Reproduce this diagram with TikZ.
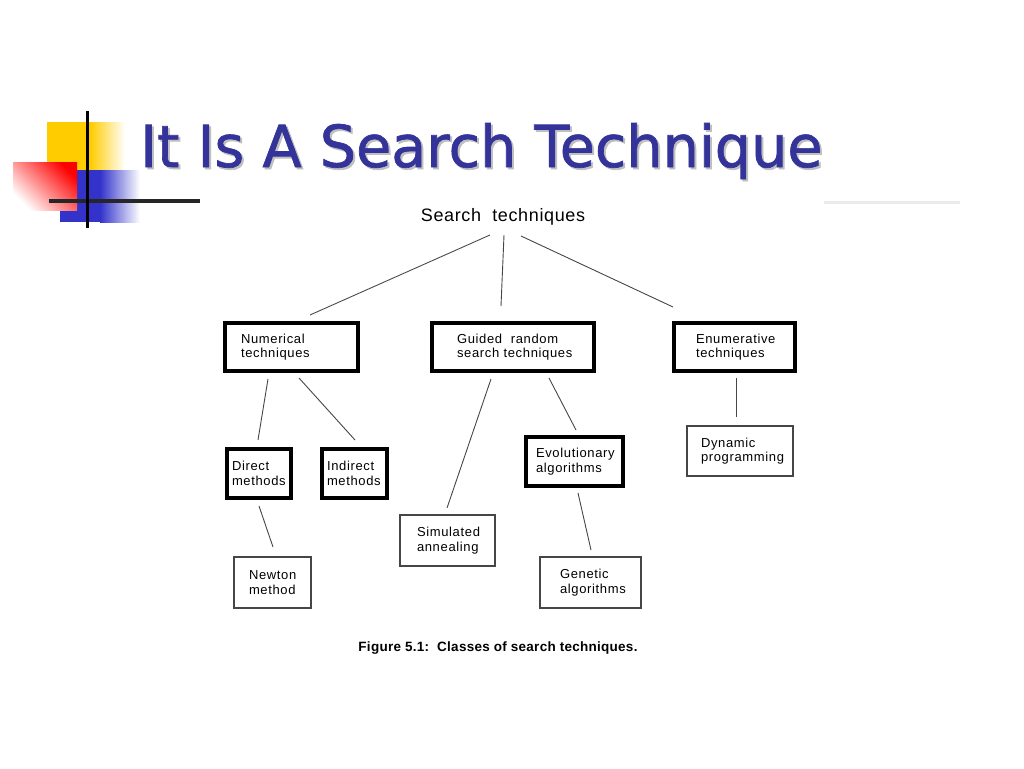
\documentclass[tikz,border=0pt]{standalone}
\usepackage{fontspec}
\setmainfont{Liberation Sans}
\newfontfamily\titlefont[FakeBold=1.2]{DejaVu Sans}
\newfontfamily\boxfont[LetterSpace=5]{Liberation Sans}
\newfontfamily\rootfont[LetterSpace=3.5]{Liberation Sans}
\newfontfamily\capfont[LetterSpace=2]{Liberation Sans}
\definecolor{titleblue}{RGB}{51,51,153}
\definecolor{logoyellow}{RGB}{255,204,0}
\definecolor{logoblue}{RGB}{51,51,204}
\definecolor{linegray}{RGB}{70,70,70}
\tikzset{
  bigbox/.style={draw=black, line width=3.6pt, align=left, inner ysep=0pt,
    font=\boxfont\fontsize{13}{14.5}\selectfont},
  smallbox/.style={draw=linegray, line width=1.1pt, align=left, inner ysep=0pt,
    font=\boxfont\fontsize{13}{14.5}\selectfont},
  link/.style={draw=linegray, line width=0.9pt}
}
\begin{document}
\begin{tikzpicture}[x=1pt, y=-1pt]
  \useasboundingbox (0,0) rectangle (1024,768);
  % logo
  \fill[logoyellow] (47,122) rectangle (90,185);
  \shade[left color=logoyellow, right color=white] (90,122) rectangle (125,185);
  \fill[logoblue] (60,170) rectangle (100,222);
  \shade[left color=logoblue, right color=white] (100,170) rectangle (140,222);
  \shade[top color=red, bottom color=white, shading angle=-45] (13,162) rectangle (77,210);
  \draw[black!85, line width=4pt] (49,201) -- (200,201);
  \draw[black, line width=3pt] (87,111) -- (87,228);
  % title
  \node[anchor=base west, inner sep=0pt, text=black!25] at (142,169)
    {\resizebox{682pt}{44pt}{\titlefont It Is A Search Technique}};
  \node[anchor=base west, inner sep=0pt, text=titleblue] (title) at (140,167)
    {\resizebox{682pt}{44pt}{\titlefont It Is A Search Technique}};
  \draw[black!8, line width=3pt] (824,202) -- (960,202);
  % tree
  \node[anchor=base, inner sep=0pt, font=\rootfont\fontsize{18}{20}\selectfont] (root) at (503,221)
    {Search\ \ techniques};
  \node[bigbox, text width=101pt, inner xsep=16pt, minimum height=48pt] (num) at (291.5,347)
    {Numerical\\techniques};
  \node[bigbox, text width=112pt, inner xsep=25pt, minimum height=48pt] (gui) at (513,347)
    {\mbox{Guided\ \ random}\\\mbox{search techniques}};
  \node[bigbox, text width=77pt, inner xsep=22pt, minimum height=48pt] (enu) at (734.5,347)
    {Enumerative\\techniques};
  \node[bigbox, text width=54pt, inner xsep=5pt, minimum height=49pt] (dir) at (259,473.5)
    {Direct\\methods};
  \node[bigbox, text width=55pt, inner xsep=5pt, minimum height=49pt] (ind) at (354.5,473.5)
    {Indirect\\methods};
  \node[bigbox, text width=77pt, inner xsep=10pt, minimum height=49pt] (evo) at (574.5,461.5)
    {Evolutionary\\algorithms};
  \node[smallbox, text width=47pt, inner xsep=15pt, minimum height=51pt] (new) at (272.5,582.5)
    {Newton\\method};
  \node[smallbox, text width=61pt, inner xsep=17pt, minimum height=51pt] (sim) at (447.5,540.5)
    {Simulated\\annealing};
  \node[smallbox, text width=61pt, inner xsep=20pt, minimum height=51pt] (gen) at (590.5,582.5)
    {Genetic\\algorithms};
  \node[smallbox, text width=78pt, inner xsep=14pt, minimum height=50pt] (dyn) at (740,451)
    {Dynamic\\programming};
  % connectors
  \draw[link] ([shift={(-13,14)}]root.base) -- ([shift={(18.5,-32)}]num.center);
  \draw[link] ([shift={(1,14)}]root.base) -- ([shift={(-12,-41)}]gui.center);
  \draw[link] ([shift={(18,15)}]root.base) -- ([shift={(-61.5,-40)}]enu.center);
  \draw[link] ([shift={(-23.5,32)}]num.center) -- ([shift={(-1,-33.5)}]dir.center);
  \draw[link] ([shift={(7.5,31)}]num.center) -- ([shift={(0.5,-33.5)}]ind.center);
  \draw[link] ([shift={(0,32.5)}]dir.center) -- ([shift={(0.5,-35.5)}]new.center);
  \draw[link] ([shift={(-22,32)}]gui.center) -- ([shift={(-0.5,-32.5)}]sim.center);
  \draw[link] ([shift={(36,31)}]gui.center) -- ([shift={(1.5,-31.5)}]evo.center);
  \draw[link] ([shift={(3.5,31.5)}]evo.center) -- ([shift={(0.5,-32.5)}]gen.center);
  \draw[link] ([shift={(1.5,31)}]enu.center) -- ([shift={(-4,-34)}]dyn.center);
  % caption
  \node[inner sep=0pt, font=\capfont\bfseries\fontsize{13.5}{15}\selectfont] (cap) at (498,648)
    {Figure 5.1:\ \ Classes of search techniques.};
\end{tikzpicture}
\end{document}
